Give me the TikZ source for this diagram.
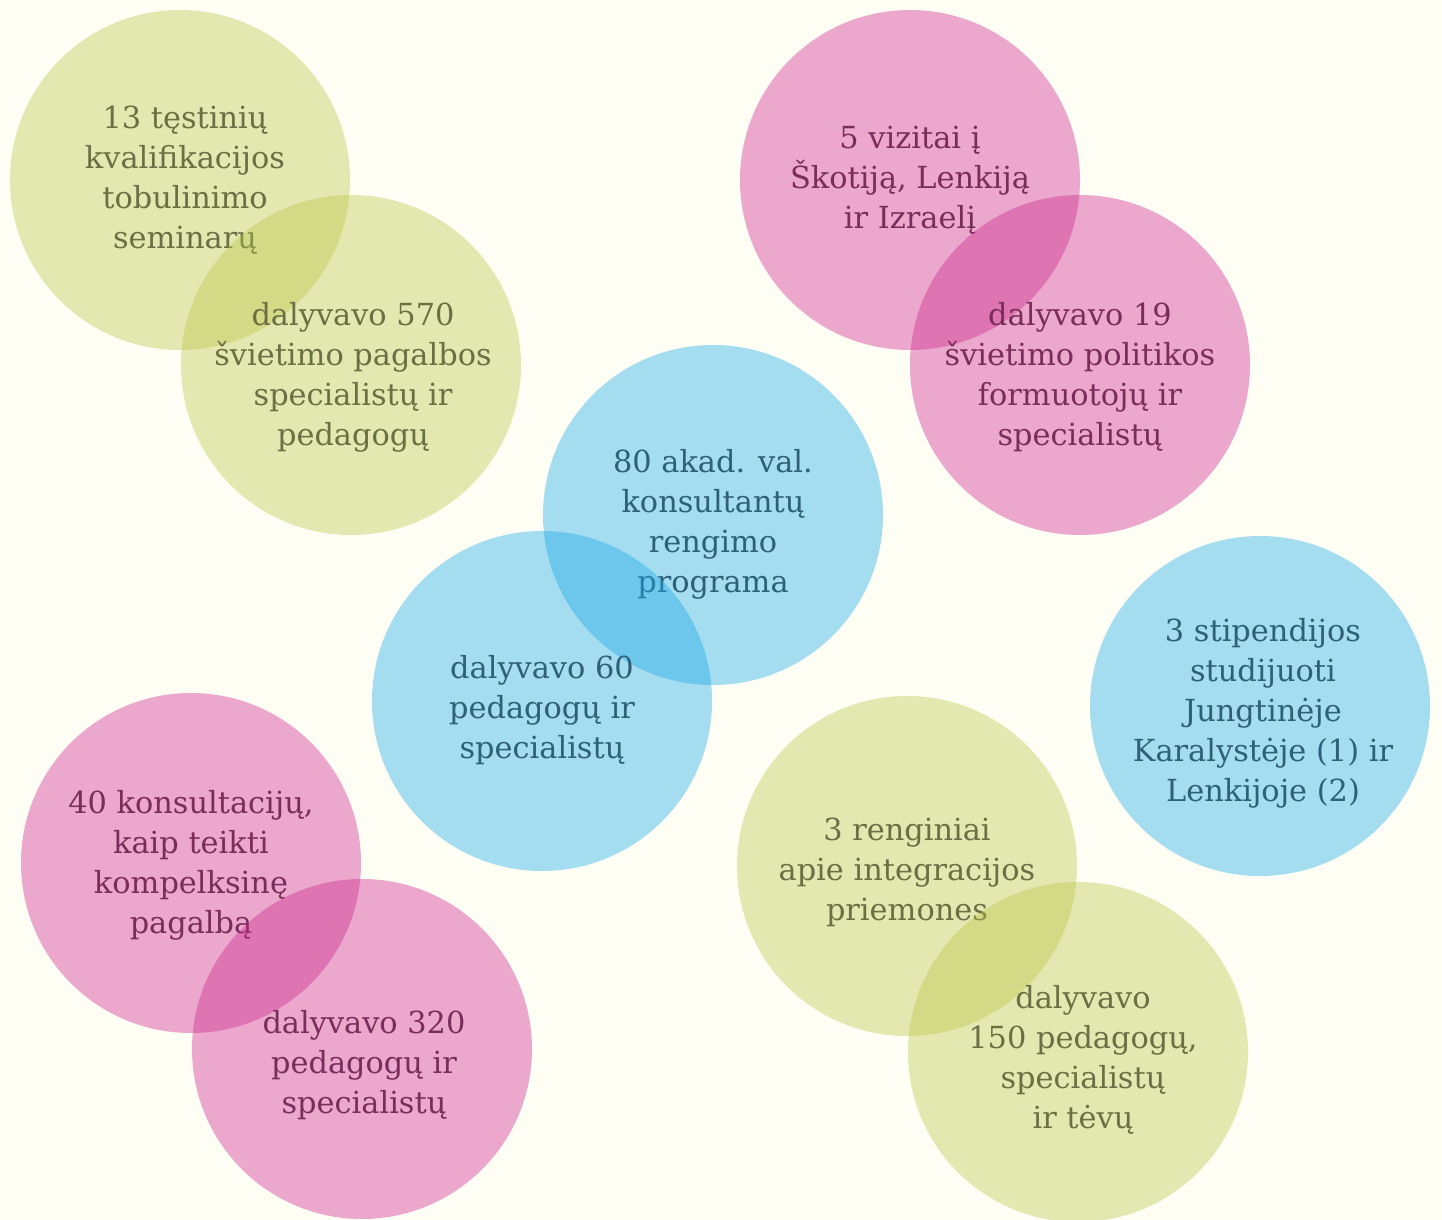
\documentclass[tikz,border=0pt]{standalone}
\usepackage{fontspec}
\setmainfont{DejaVu Serif}
\definecolor{paper}{HTML}{FFFEF5}
\definecolor{olive}{HTML}{B9C749}
\definecolor{rose}{HTML}{CD278F}
\definecolor{sky}{HTML}{1CA9E9}
\definecolor{olivetxt}{HTML}{6B7044}
\definecolor{rosetxt}{HTML}{7A2D5A}
\definecolor{skytxt}{HTML}{2E6078}
\tikzset{
	ball/.style={circle,minimum size=170pt,inner sep=0pt,fill opacity=0.4},
	gball/.style={ball,fill=olive},
	pball/.style={ball,fill=rose},
	bball/.style={ball,fill=sky},
	txt/.style={align=center,inner sep=0pt,font=\fontsize{15.2}{20}\selectfont},
	gtxt/.style={txt,text=olivetxt},
	ptxt/.style={txt,text=rosetxt},
	btxt/.style={txt,text=skytxt}
}
\begin{document}
\begin{tikzpicture}[x=0.5pt,y=-0.5pt]
		\fill[paper] (0,0) rectangle (1442,1220);
		\useasboundingbox (0,0) rectangle (1442,1220);
		\node[gball] (semB) at (180,180) {};
		\node[gtxt] (semT) at (185,180) {13 tęstinių\\kvalifikacijos\\tobulinimo\\seminarų};
		\node[gball] (pagB) at (351,365) {};
		\node[gtxt] (pagT) at (353,377) {dalyvavo 570\\švietimo pagalbos\\specialistų ir\\pedagogų};
		\node[pball] (vizB) at (910,180) {};
		\node[ptxt] (vizT) at (910,180) {5 vizitai į\\Škotiją, Lenkiją\\ir Izraelį};
		\node[pball] (polB) at (1080,365) {};
		\node[ptxt] (polT) at (1080,377) {dalyvavo 19\\švietimo politikos\\formuotojų ir\\specialistų};
		\node[bball] (akaB) at (713,515) {};
		\node[btxt] (akaT) at (713,524) {80 akad. val.\\konsultantų\\rengimo\\programa};
		\node[bball] (pedB) at (542,701) {};
		\node[btxt] (pedT) at (542,710) {dalyvavo 60\\pedagogų ir\\specialistų};
		\node[bball] (stiB) at (1260,706) {};
		\node[btxt] (stiT) at (1263,713) {3 stipendijos\\studijuoti\\Jungtinėje\\Karalystėje (1) ir\\Lenkijoje (2)};
		\node[pball] (konB) at (191,863) {};
		\node[ptxt] (konT) at (191,865) {40 konsultacijų,\\kaip teikti\\kompelksinę\\pagalbą};
		\node[pball] (dalB) at (362,1049) {};
		\node[ptxt] (dalT) at (364,1065) {dalyvavo 320\\pedagogų ir\\specialistų};
		\node[gball] (renB) at (907,866) {};
		\node[gtxt] (renT) at (907,872) {3 renginiai\\apie integracijos\\priemones};
		\node[gball] (tevB) at (1078,1052) {};
		\node[gtxt] (tevT) at (1083,1060) {dalyvavo\\150 pedagogų,\\specialistų\\ir tėvų};
	\end{tikzpicture}
\end{document}
